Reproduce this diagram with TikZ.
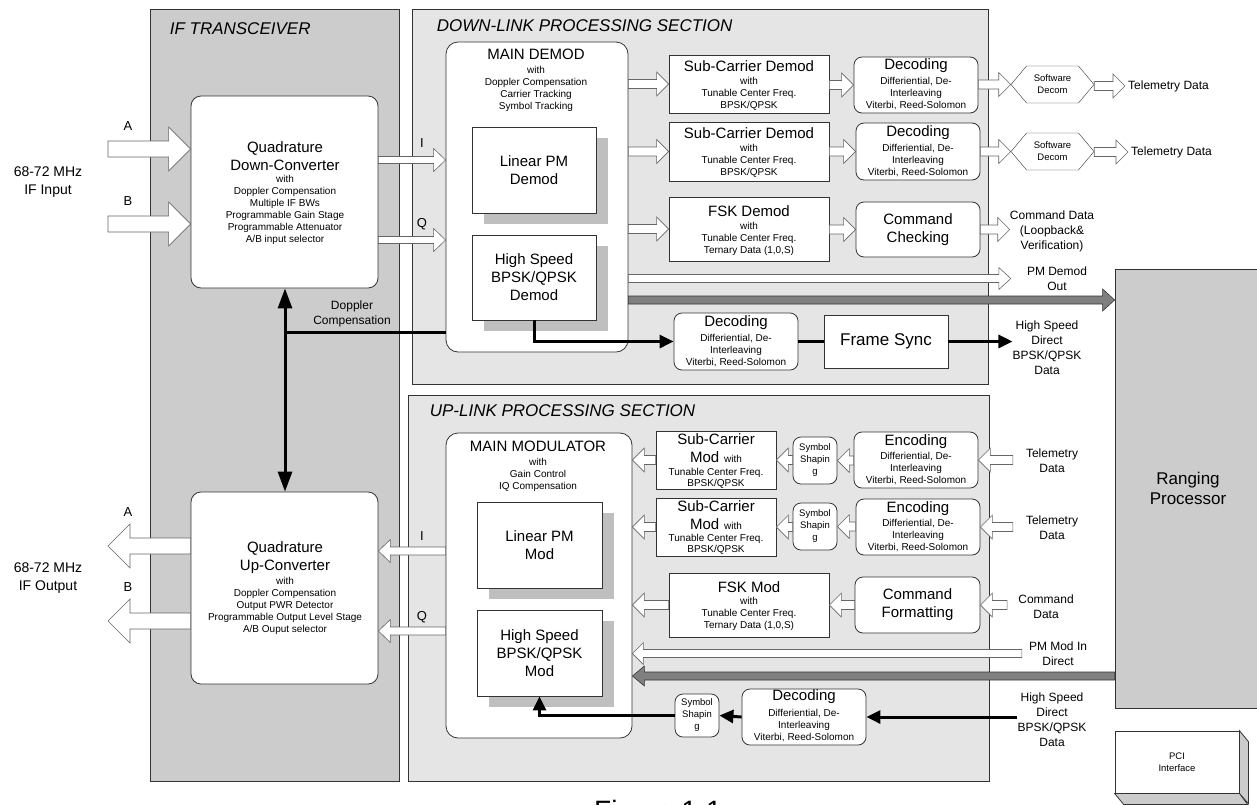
\documentclass[tikz,border=0pt]{standalone}
\usepackage{fontspec}
\setmainfont{Liberation Sans}
\usetikzlibrary{arrows.meta,shapes.symbols,shadows,calc}
\tikzset{
    dark-panel/.style = {draw=black!80, fill=black!20, line width=0.8pt},
    light-panel/.style = {draw=black!80, fill=black!10, line width=0.8pt},
    panel-title/.style = {font=\fontsize{17}{20}\selectfont\itshape, anchor=west, inner sep=0pt},
    round-box/.style = {draw=black!80, fill=white, line width=0.8pt, rounded corners=8pt},
    square-box/.style = {draw=black!80, fill=white, line width=0.8pt},
    shadow-box/.style = {square-box, drop shadow={fill=black!25, opacity=1, shadow xshift=12pt, shadow yshift=-11pt}},
    big-text/.style = {font=\fontsize{15}{18}\selectfont, align=center, inner sep=0pt},
    small-text/.style = {font=\fontsize{10}{12}\selectfont, align=center, inner sep=0pt},
    tiny-text/.style = {font=\fontsize{9.5}{12}\selectfont, align=center, inner sep=0pt},
    side-text/.style = {font=\fontsize{12}{15}\selectfont, align=center, inner sep=0pt},
    port-text/.style = {font=\fontsize{13}{15}\selectfont, inner sep=0pt},
    decom-box/.style = {signal, signal to=west and east, signal pointer angle=100, draw=black!80, fill=white,
        minimum width=83pt, minimum height=37pt, inner sep=0pt, tiny-text},
    block-arrow/.style = {draw=black!60, fill=white, line width=0.6pt},
    bus-arrow/.style = {draw=black!80, fill=black!50},
    thick-line/.style = {line width=3pt},
    thick-arrow/.style = {thick-line, -{Triangle[length=14pt,width=13pt]}},
    doppler-arrow/.style = {thick-line, -{Triangle[length=20pt,width=14pt]}},
}
\newcommand{\blockarrow}[6][]{%
  \path[block-arrow,#1] let \p1=(#2), \p2=(#3), \n1={ifthenelse(\x2>\x1,1,-1)} in
    ({\x1},{\y2+#4}) -- ({\x2-(\n1)*#6},{\y2+#4}) -- ({\x2-(\n1)*#6},{\y2+#5}) -- (\x2,\y2)
    -- ({\x2-(\n1)*#6},{\y2-#5}) -- ({\x2-(\n1)*#6},{\y2-#4}) -- ({\x1},{\y2-#4}) -- cycle;}

\begin{document}
\begin{tikzpicture}[x=1pt, y=-1pt]
\useasboundingbox (0,0) rectangle (1257,804);
\clip (0,0) rectangle (1257,804);

\node[dark-panel, minimum width=249pt, minimum height=772pt] (ifpanel) at (274.5,395) {};
\node[panel-title] at ([xshift=20pt,yshift=-20pt]ifpanel.north west) {IF TRANSCEIVER};
\node[light-panel, minimum width=576pt, minimum height=375pt] (downpanel) at (700,196.5) {};
\node[panel-title] at ([xshift=25pt,yshift=-17pt]downpanel.north west) {DOWN-LINK PROCESSING SECTION};
\node[light-panel, minimum width=581pt, minimum height=386pt] (uppanel) at (698.5,588) {};
\node[panel-title] at ([xshift=22pt,yshift=-16pt]uppanel.north west) {UP-LINK PROCESSING SECTION};
\node[dark-panel, minimum width=146pt, minimum height=439pt, font=\fontsize{17}{20}\selectfont, align=center] (ranging) at (1188,488.5) {Ranging\\Processor};

\node[round-box, rounded corners=10pt, minimum width=187pt, minimum height=192pt] (qdown) at (284.5,192) {};
\node[big-text] at (285,156) {Quadrature\\Down-Converter};
\node[small-text] at (285,210) {with\\Doppler Compensation\\Multiple IF BWs\\Programmable Gain Stage\\Programmable Attenuator\\A/B input selector};
\node[round-box, rounded corners=10pt, minimum width=187pt, minimum height=192pt] (qup) at (284.5,588) {};
\node[big-text] at (285,558) {Quadrature\\Up-Converter};
\node[small-text] at (285,606) {with\\Doppler Compensation\\Output PWR Detector\\Programmable Output Level Stage\\A/B Ouput selector};

\node[side-text, font=\fontsize{14}{18}\selectfont] (ifin) at (48,182) {68-72 MHz\\IF Input};
\node[side-text, font=\fontsize{14}{18}\selectfont] (ifout) at (48,578) {68-72 MHz\\IF Output};
\node[port-text] at (128,126) {A};
\node[port-text] at (128,201) {B};
\node[port-text] at (128,512) {A};
\node[port-text] at (128,587) {B};
\node[port-text] at (422,143) {I};
\node[port-text] at (422,224) {Q};
\node[port-text] at (422,536) {I};
\node[port-text] at (422,617) {Q};

\node[round-box, rounded corners=12pt, minimum width=182pt, minimum height=310pt] (demod) at (537,197) {};
\node[big-text] at (536,54) {MAIN DEMOD};
\node[small-text] at (536,89) {with\\Doppler Compensation\\Carrier Tracking\\Symbol Tracking};
\node[shadow-box, big-text, minimum width=124pt, minimum height=86pt] (lindemod) at (534,170) {Linear PM\\Demod};
\node[shadow-box, big-text, minimum width=124pt, minimum height=85pt] (hsdemod) at (534,277.5) {High Speed\\BPSK/QPSK\\Demod};

\node[square-box, minimum width=160pt, minimum height=58pt] (sc1) at (749,84) {};
\node[big-text] at (749,66) {Sub-Carrier Demod};
\node[small-text] at (749,93.5) {with\\Tunable Center Freq.\\BPSK/QPSK};
\node[square-box, minimum width=160pt, minimum height=59pt] (sc2) at (749,151.5) {};
\node[big-text] at (749,133) {Sub-Carrier Demod};
\node[small-text] at (749,160.5) {with\\Tunable Center Freq.\\BPSK/QPSK};
\node[square-box, minimum width=160pt, minimum height=64pt] (fskdemod) at (749,229) {};
\node[big-text] at (749,211) {FSK Demod};
\node[small-text] at (749,238.5) {with\\Tunable Center Freq.\\Ternary Data (1,0,S)};

\node[round-box, minimum width=124pt, minimum height=56pt] (dec1) at (916,85) {};
\node[big-text] at (916,66) {Decoding};
\node[small-text] at (916,94) {Differiential, De-\\Interleaving\\Viterbi, Reed-Solomon};
\node[round-box, minimum width=124pt, minimum height=57pt] (dec2) at (918,151.5) {};
\node[big-text] at (918,133) {Decoding};
\node[small-text] at (918,160.5) {Differiential, De-\\Interleaving\\Viterbi, Reed-Solomon};
\node[round-box, big-text, minimum width=124pt, minimum height=55pt] (check) at (918,229.5) {Command\\Checking};

\node[decom-box] (sw1) at (1052.5,84.5) {Software\\Decom};
\node[decom-box] (sw2) at (1052.5,151.5) {Software\\Decom};
\node[side-text, anchor=west] (tel1) at (1128,86) {Telemetry Data};
\node[side-text, anchor=west] (tel2) at (1131,152) {Telemetry Data};
\node[side-text] (cmdout) at (1052,231) {Command Data\\(Loopback\&\\Verification)};
\node[side-text] (pmout) at (1057,278.5) {PM Demod\\Out};

\node[round-box, minimum width=124pt, minimum height=57pt] (dec3) at (736,341.5) {};
\node[big-text] at (736,323) {Decoding};
\node[small-text] at (736,351) {Differiential, De-\\Interleaving\\Viterbi, Reed-Solomon};
\node[square-box, minimum width=124pt, minimum height=53pt, font=\fontsize{17}{20}\selectfont] (frame) at (886,341.5) {Frame Sync};
\node[side-text] (hsout) at (1047,348) {High Speed\\Direct\\BPSK/QPSK\\Data};

\node[round-box, rounded corners=12pt, minimum width=186pt, minimum height=305pt] (mod) at (539,585.5) {};
\node[big-text] at (538,446) {MAIN MODULATOR};
\node[small-text] at (538,474.5) {with\\Gain Control\\IQ Compensation};
\node[shadow-box, big-text, minimum width=125pt, minimum height=86pt] (linmod) at (539.5,545) {Linear PM\\Mod};
\node[shadow-box, big-text, minimum width=125pt, minimum height=86pt] (hsmod) at (539.5,653) {High Speed\\BPSK/QPSK\\Mod};

\node[square-box, minimum width=120pt, minimum height=58pt] (scm1) at (716,460) {};
\node[big-text] at (716,448.5) {Sub-Carrier\\Mod\hspace{5pt}{\fontsize{10}{12}\selectfont with}};
\node[small-text, font=\fontsize{10}{11}\selectfont] at (716,478.5) {Tunable Center Freq.\\BPSK/QPSK};
\node[square-box, minimum width=120pt, minimum height=58pt] (scm2) at (716,527) {};
\node[big-text] at (716,515) {Sub-Carrier\\Mod\hspace{5pt}{\fontsize{10}{12}\selectfont with}};
\node[small-text, font=\fontsize{10}{11}\selectfont] at (716,544.5) {Tunable Center Freq.\\BPSK/QPSK};
\node[square-box, minimum width=160pt, minimum height=64pt] (fskmod) at (749,605) {};
\node[big-text] at (749,587) {FSK Mod};
\node[small-text] at (749,614) {with\\Tunable Center Freq.\\Ternary Data (1,0,S)};

\node[round-box, tiny-text, minimum width=44pt, minimum height=47pt] (ss1) at (815,460.5) {Symbol\\Shapin\\g};
\node[round-box, tiny-text, minimum width=44pt, minimum height=47pt] (ss2) at (815,526.5) {Symbol\\Shapin\\g};
\node[round-box, tiny-text, minimum width=44pt, minimum height=43pt] (ss3) at (697,715.5) {Symbol\\Shapin\\g};

\node[round-box, minimum width=124pt, minimum height=56pt] (enc1) at (916,460) {};
\node[big-text] at (916,442) {Encoding};
\node[small-text] at (916,469) {Differiential, De-\\Interleaving\\Viterbi, Reed-Solomon};
\node[round-box, minimum width=124pt, minimum height=56pt] (enc2) at (918,527) {};
\node[big-text] at (918,509) {Encoding};
\node[small-text] at (918,535.5) {Differiential, De-\\Interleaving\\Viterbi, Reed-Solomon};
\node[round-box, big-text, minimum width=125pt, minimum height=56pt] (cmdfmt) at (917.5,605) {Command\\Formatting};
\node[round-box, minimum width=124pt, minimum height=56pt] (dec4) at (804,717) {};
\node[big-text] at (804,697) {Decoding};
\node[small-text] at (804,725.5) {Differiential, De-\\Interleaving\\Viterbi, Reed-Solomon};

\node[side-text] (tel3) at (1052,460.5) {Telemetry\\Data};
\node[side-text] (tel4) at (1052,527.5) {Telemetry\\Data};
\node[side-text] (cmdin) at (1046,606.5) {Command\\Data};
\node[side-text] (pmin) at (1058,653.5) {PM Mod In\\Direct};
\node[side-text] (hsin) at (1052,719.5) {High Speed\\Direct\\BPSK/QPSK\\Data};

\node[square-box, tiny-text, minimum width=124pt, minimum height=62pt] (pci) at (1177,762) {PCI\\Interface};
\draw[fill=black!20, draw=black!80, line width=0.8pt] (pci.north east) -- ++(9,11) -- ++(0,62) -- (pci.south east) -- cycle;
\draw[fill=black!20, draw=black!80, line width=0.8pt] (pci.south west) -- ++(9,11) -- ++(124,0) -- (pci.south east) -- cycle;

\node[font=\fontsize{28}{34}\selectfont, anchor=base] (caption) at (658,820) {Figure 1-1};

\coordinate (inA) at (108,149);
\coordinate (inB) at (108,224);
\coordinate (outA) at (108,546);
\coordinate (outB) at (108,621);
\coordinate (dnI) at (0,160);
\coordinate (dnQ) at (0,240);
\coordinate (upI) at (0,551);
\coordinate (upQ) at (0,631);
\coordinate (dop) at (285,332);
\coordinate (busdown) at (0,300);
\coordinate (busup) at (0,676);
\coordinate (pmdownend) at ([xshift=-16pt]pmout.west);
\coordinate (pmupstart) at ([xshift=-7pt]pmin.west);

\blockarrow{inA}{qdown.west |- inA}{8pt}{22pt}{22pt}
\blockarrow{inB}{qdown.west |- inB}{8pt}{22pt}{22pt}
\blockarrow{qup.west |- outA}{outA}{8pt}{22pt}{22pt}
\blockarrow{qup.west |- outB}{outB}{8pt}{22pt}{22pt}
\blockarrow{qdown.east |- dnI}{demod.west |- dnI}{3.5pt}{11.5pt}{12pt}
\blockarrow{qdown.east |- dnQ}{demod.west |- dnQ}{3.5pt}{11.5pt}{12pt}
\blockarrow{mod.west |- upI}{qup.east |- upI}{4pt}{11.5pt}{12pt}
\blockarrow{mod.west |- upQ}{qup.east |- upQ}{4pt}{11.5pt}{12pt}

\blockarrow{demod.east |- sc1}{sc1.west}{4.5pt}{12pt}{12pt}
\blockarrow{demod.east |- sc2}{sc2.west}{4.5pt}{12pt}{12pt}
\blockarrow{demod.east |- fskdemod}{fskdemod.west}{4.5pt}{12pt}{12pt}
\blockarrow{sc1.east}{dec1.west}{4.5pt}{12pt}{12pt}
\blockarrow{sc2.east}{dec2.west}{4.5pt}{12pt}{12pt}
\blockarrow{fskdemod.east}{check.west}{4.5pt}{12pt}{12pt}
\blockarrow{dec1.east}{sw1.west}{4.5pt}{12pt}{12pt}
\blockarrow{dec2.east}{sw2.west}{4.5pt}{12pt}{12pt}
\blockarrow{sw1.east}{[xshift=-3pt]tel1.west}{4.5pt}{12pt}{12pt}
\blockarrow{sw2.east}{[xshift=-3pt]tel2.west}{4.5pt}{12pt}{12pt}
\blockarrow{check.east}{cmdout.west |- check}{4.5pt}{12pt}{12pt}
\blockarrow{demod.east |- pmdownend}{pmdownend}{4pt}{11pt}{12pt}
\blockarrow[bus-arrow]{demod.east |- busdown}{ranging.west |- busdown}{4pt}{11pt}{12pt}

\blockarrow{scm1.west}{mod.east |- scm1}{4.5pt}{12pt}{12pt}
\blockarrow{scm2.west}{mod.east |- scm2}{4.5pt}{12pt}{12pt}
\blockarrow{fskmod.west}{mod.east |- fskmod}{4.5pt}{12pt}{12pt}
\blockarrow{ss1.west}{scm1.east}{4.5pt}{12pt}{12pt}
\blockarrow{ss2.west}{scm2.east}{4.5pt}{12pt}{12pt}
\blockarrow{enc1.west}{ss1.east}{4.5pt}{12pt}{12pt}
\blockarrow{enc2.west}{ss2.east}{4.5pt}{12pt}{12pt}
\blockarrow{[xshift=-13pt]tel3.west}{enc1.east}{4.5pt}{12pt}{12pt}
\blockarrow{[xshift=-13pt]tel4.west}{enc2.east}{4.5pt}{12pt}{12pt}
\blockarrow{cmdfmt.west}{fskmod.east}{4.5pt}{12pt}{12pt}
\blockarrow{[xshift=-11pt]cmdin.west}{cmdfmt.east}{4.5pt}{12pt}{12pt}
\blockarrow{pmupstart}{mod.east |- pmupstart}{4pt}{11pt}{11pt}
\blockarrow[bus-arrow]{ranging.west |- busup}{mod.east |- busup}{4pt}{10pt}{12pt}

\draw[thick-line] (demod.west |- dop) -- (dop);
\draw[doppler-arrow] (dop) -- (dop |- qdown.south);
\draw[doppler-arrow] (dop) -- (dop |- qup.north);
\node[side-text] (doplabel) at (352,313.5) {Doppler\\Compensation};

\draw[thick-arrow] (hsdemod.south) |- (dec3.west);
\draw[thick-line] (dec3.east) -- (frame.west);
\draw[thick-arrow] (frame.east) -- (hsout.west |- frame.east);
\draw[thick-arrow] (hsin.west |- dec4.east) -- (dec4.east);
\draw[thick-arrow] (dec4.west) -- (ss3.east);
\draw[thick-arrow] (ss3.west) -| (hsmod.south);
\end{tikzpicture}
\end{document}
